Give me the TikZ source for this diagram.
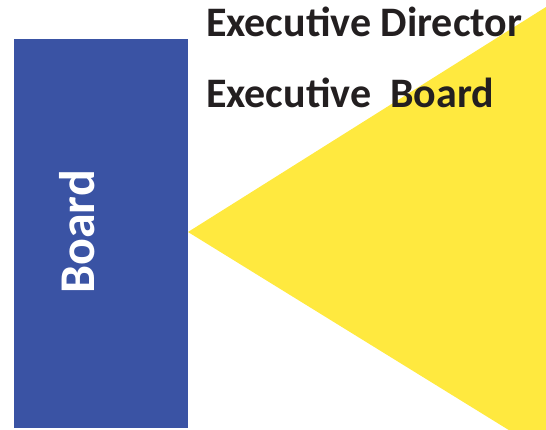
\documentclass[tikz,border=0pt]{standalone}
\usepackage{fontspec}
\setmainfont{Carlito}
\definecolor{boardblue}{HTML}{3A53A4}
\definecolor{wedgeyellow}{HTML}{FFE93F}
\definecolor{txt}{HTML}{231F20}
\begin{document}
\begin{tikzpicture}[x=1pt,y=-1pt,
  label/.style={inner sep=0pt,outer sep=0pt,font=\bfseries\fontsize{42}{46}\selectfont,text=txt},
  boardlabel/.style={inner sep=0pt,outer sep=0pt,font=\bfseries\fontsize{50}{54}\selectfont,text=white}]
\useasboundingbox (0,0) rectangle (546,430);
\fill[wedgeyellow] (188,232) coordinate (apex) -- (546,7) -- (546,453) -- cycle;
\fill[boardblue] (14,39) rectangle (188,428);
\node[label,anchor=base west] (ed) at (206,37) {Executive Director};
\node[label,anchor=base west] (eb) at (206,108) {Executive\ \ Board};
\node[boardlabel,rotate=90,anchor=base] (board) at (94,232) {Board};
\end{tikzpicture}
\end{document}
